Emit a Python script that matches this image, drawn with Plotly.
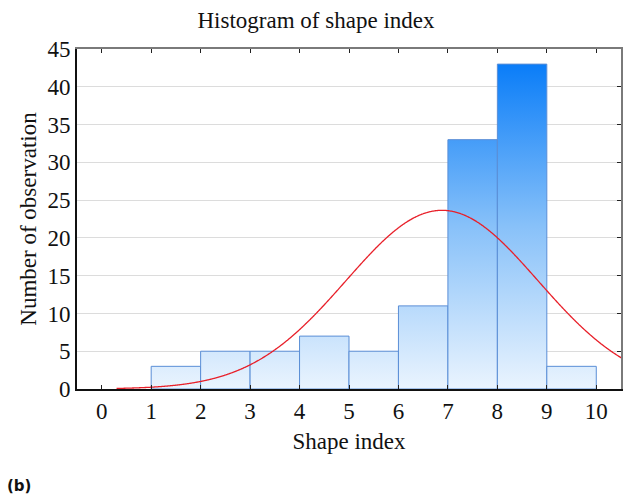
import numpy as np
import plotly.graph_objects as go

# Histogram data (bins [left, right) and counts)
bin_left = [1, 2, 3, 4, 5, 6, 7, 8, 9]
bin_right = [2, 3, 4, 5, 6, 7, 8, 9, 10]
counts = [3, 5, 5, 7, 5, 11, 33, 43, 3]

# Fitted normal curve parameters
fit_mean = 6.88
fit_sd = 1.94
fit_n = sum(counts)
bin_width = 1.0

x_ticks = list(range(0, 11))
y_ticks = list(range(0, 46, 5))

FONT = "Liberation Serif"
FS = 23

fig = go.Figure()

for l, r, c in zip(bin_left, bin_right, counts):
    fig.add_trace(go.Scatter(
        x=[l, l, r, r, l], y=[0, c, c, 0, 0],
        mode="lines", fill="toself",
        fillgradient=dict(type="vertical", start=0, stop=43,
                          colorscale=[[0, "#EAF4FE"], [0.5, "#88C1F9"], [1, "#0A7DF8"]]),
        line=dict(color="#5A8ED6", width=1),
        hoverinfo="skip", showlegend=False,
    ))

xc = np.linspace(0.3, 10.7, 600)
yc = fit_n * bin_width / (fit_sd * np.sqrt(2 * np.pi)) * np.exp(-0.5 * ((xc - fit_mean) / fit_sd) ** 2)
fig.add_trace(go.Scatter(x=xc, y=yc, mode="lines",
                         line=dict(color="#E8202A", width=1.3, shape="spline"),
                         hoverinfo="skip", showlegend=False))

# invisible trace for mirrored (top/right) axes
fig.add_trace(go.Scatter(x=[0], y=[0], xaxis="x2", yaxis="y2", mode="markers",
                         marker=dict(opacity=0), hoverinfo="skip", showlegend=False))

fig.update_layout(
    width=632, height=498,
    paper_bgcolor="white", plot_bgcolor="white",
    margin=dict(l=77, r=11, t=49, b=109, autoexpand=False),
    title=dict(text="Histogram of shape index", x=0.5, xanchor="center",
               y=0.96, yanchor="middle",
               font=dict(family=FONT, size=FS, color="#111")),
    font=dict(family=FONT, size=FS, color="#111"),
    xaxis=dict(range=[-0.5, 10.5], tickvals=x_ticks, ticks="inside", ticklen=4,
               tickcolor="#222", showgrid=False, zeroline=False, automargin=False,
               showline=True, linecolor="#111", linewidth=2, layer="above traces",
               title=dict(text="Shape index", font=dict(size=FS), standoff=10),
               tickfont=dict(size=FS)),
    yaxis=dict(range=[0, 45], tickvals=y_ticks, ticks="", showgrid=True,
               gridcolor="#DCDCDC", gridwidth=1, zeroline=False, automargin=False,
               showline=True, linecolor="#111", linewidth=2, layer="above traces",
               title=dict(text="Number of observation", font=dict(size=FS), standoff=4),
               tickfont=dict(size=FS)),
    xaxis2=dict(overlaying="x", side="top", matches="x", tickvals=x_ticks,
                ticks="inside", ticklen=4, tickcolor="#222", showticklabels=False,
                showgrid=False, zeroline=False, showline=True, automargin=False,
                linecolor="#7A7A7A", linewidth=2),
    yaxis2=dict(overlaying="y", side="right", matches="y", tickvals=y_ticks,
                ticks="inside", ticklen=4, tickcolor="#222", showticklabels=False,
                showgrid=False, zeroline=False, showline=True, automargin=False,
                linecolor="#7A7A7A", linewidth=2),
    annotations=[dict(text="<b>(b)</b>", xref="paper", yref="paper",
                      x=-0.133, y=-0.285, xanchor="left", yanchor="middle",
                      showarrow=False,
                      font=dict(family="DejaVu Sans", size=15, color="#111"))],
)

fig.write_html("out.html",
               config={"displayModeBar": False},
               post_script="document.body.style.margin='0';document.body.style.padding='0';")
